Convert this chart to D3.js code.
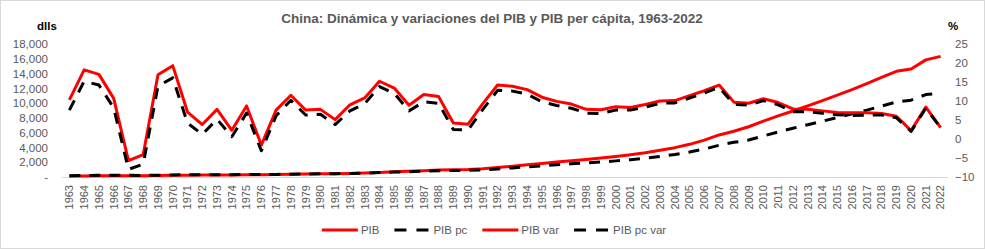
<!DOCTYPE html>
<html>
<head>
<meta charset="utf-8">
<script src="https://cdn.jsdelivr.net/npm/d3@7"></script>
<style>
  body { margin: 0; background: #fff; }
  svg { display: block; font-family: "Liberation Sans", Arial, sans-serif; }
</style>
</head>
<body>
<div id="chart"></div>
<script>
// años 1963-2022
const years = d3.range(1963, 2023).map(String);

// PIB (miles de millones de dólares constantes)
const pib = [120, 142, 166, 184, 173, 166, 194, 232, 248, 258,
  278, 284, 309, 304, 327, 365, 393, 424, 446, 486,
  538, 620, 703, 766, 855, 951, 991, 1029, 1125, 1285,
  1464, 1654, 1836, 2017, 2203, 2375, 2558, 2775, 3006, 3279,
  3607, 3971, 4423, 4985, 5693, 6200, 6800, 7556, 8281, 8935,
  9632, 10345, 11069, 11833, 12649, 13497, 14307, 14622, 15850, 16325];

// PIB per cápita (dólares)
const pibPc = [175, 202, 231, 249, 229, 214, 244, 283, 295, 298,
  314, 315, 336, 326, 346, 381, 404, 430, 446, 479,
  523, 595, 666, 714, 784, 858, 880, 901, 971, 1095,
  1233, 1379, 1514, 1647, 1780, 1901, 2028, 2182, 2348, 2545,
  2784, 3048, 3377, 3785, 4300, 4691, 5000, 5550, 6100, 6600,
  7080, 7560, 8050, 8550, 9050, 9600, 10150, 10400, 11150, 11350];

// variación PIB (%)
const pibVar = [10.3, 18.2, 17.0, 10.7, -5.7, -4.1, 16.9, 19.3, 7.1, 3.8,
  7.8, 2.3, 8.7, -1.6, 7.6, 11.5, 7.6, 7.8, 5.1, 9.0,
  10.8, 15.2, 13.4, 8.9, 11.7, 11.2, 4.2, 3.9, 9.3, 14.2,
  13.9, 13.0, 11.0, 9.9, 9.2, 7.8, 7.7, 8.5, 8.3, 9.1,
  10.0, 10.1, 11.4, 12.7, 14.2, 9.7, 9.4, 10.6, 9.6, 7.9,
  7.8, 7.4, 7.0, 6.9, 6.9, 6.7, 6.0, 2.2, 8.4, 3.0];

// variación PIB per cápita (%)
const pibPcVar = [7.6, 15.2, 14.2, 8.2, -8.0, -6.6, 13.9, 16.1, 4.2, 1.2,
  5.2, 0.6, 6.8, -3.1, 6.1, 10.2, 6.3, 6.5, 3.8, 7.4,
  9.3, 13.8, 12.0, 7.4, 9.8, 9.4, 2.5, 2.4, 7.8, 12.8,
  12.6, 11.8, 9.8, 8.8, 8.1, 6.8, 6.7, 7.6, 7.6, 8.4,
  9.4, 9.5, 10.8, 12.1, 13.6, 9.1, 8.9, 10.1, 9.0, 7.2,
  7.2, 6.8, 6.4, 6.2, 6.3, 6.3, 5.6, 2.0, 8.1, 3.0];

const leftTicks = d3.range(0, 18001, 2000);
const rightTicks = d3.range(-10, 26, 5);

const width = 985, height = 249;
const gray = "#595959";

const svg = d3.select("#chart").append("svg")
  .attr("width", width)
  .attr("height", height);

svg.append("rect")
  .attr("x", 0.5).attr("y", 0.5)
  .attr("width", width - 1).attr("height", height - 1)
  .attr("fill", "#fff").attr("stroke", "#d9d9d9");

const x = d3.scaleBand().domain(years).range([62, 948]);
const yL = d3.scaleLinear().domain([0, 18000]).range([177, 44]);
const yR = d3.scaleLinear().domain([-10, 25]).range([177, 44]);
const cx = d => x(d) + x.bandwidth() / 2;

// titulo
svg.append("text")
  .attr("x", 492).attr("y", 23)
  .attr("text-anchor", "middle")
  .attr("font-size", "13.5px").attr("font-weight", "bold")
  .attr("fill", gray)
  .text("China: Dinámica y variaciones del PIB y PIB per cápita, 1963-2022");

svg.append("text")
  .attr("x", 37).attr("y", 30)
  .attr("font-size", "11.5px").attr("font-weight", "bold")
  .attr("fill", "#000").text("dlls");

svg.append("text")
  .attr("x", 948).attr("y", 30)
  .attr("font-size", "11.5px").attr("font-weight", "bold")
  .attr("fill", "#000").text("%");

// ejes
const fmtL = d => d === 0 ? "-" : d3.format(",")(d);
const axL = svg.append("g")
  .attr("transform", "translate(62,0)")
  .call(d3.axisLeft(yL).tickValues(leftTicks).tickFormat(fmtL).tickSize(0).tickPadding(14));
const axR = svg.append("g")
  .attr("transform", "translate(948,0)")
  .call(d3.axisRight(yR).tickValues(rightTicks).tickSize(0).tickPadding(7));
[axL, axR].forEach(g => {
  g.select(".domain").remove();
  g.selectAll("text").attr("font-size", "11.5px").attr("fill", gray)
    .attr("font-family", "Liberation Sans, Arial, sans-serif");
});

const axX = svg.append("g")
  .attr("transform", "translate(0,177)")
  .call(d3.axisBottom(x).tickSize(0));
axX.select(".domain").attr("stroke", "#d9d9d9").attr("d", "M62,0.5H948");
axX.selectAll("text")
  .attr("font-size", "11px").attr("fill", gray)
  .attr("font-family", "Liberation Sans, Arial, sans-serif")
  .attr("text-anchor", "end")
  .attr("transform", "translate(0,8) rotate(-90)")
  .attr("x", 0).attr("y", 0).attr("dy", "0.35em");

// series
const series = [
  { name: "PIB", values: pib, y: yL, color: "#ff0000", dash: null },
  { name: "PIB pc", values: pibPc, y: yL, color: "#000", dash: "11,9" },
  { name: "PIB var", values: pibVar, y: yR, color: "#ff0000", dash: null },
  { name: "PIB pc var", values: pibPcVar, y: yR, color: "#000", dash: "11,9" }
];

series.forEach(s => {
  const line = d3.line()
    .x((d, i) => cx(years[i]))
    .y(d => s.y(d));
  svg.append("path")
    .datum(s.values)
    .attr("d", line)
    .attr("fill", "none")
    .attr("stroke", s.color)
    .attr("stroke-width", 3)
    .attr("stroke-linejoin", "round")
    .attr("stroke-dasharray", s.dash);
});

// leyenda
const leg = svg.append("g");
let lx = 0;
series.forEach(s => {
  const g = leg.append("g").attr("transform", `translate(${lx},0)`);
  g.append("line")
    .attr("x1", 0).attr("x2", 36).attr("y1", 0).attr("y2", 0)
    .attr("stroke", s.color).attr("stroke-width", 3)
    .attr("stroke-dasharray", s.dash ? "12,10" : null);
  const t = g.append("text")
    .attr("x", 39).attr("dy", "0.35em")
    .attr("font-size", "11.5px").attr("fill", gray)
    .text(s.name);
  lx += 39 + t.node().getComputedTextLength() + 15;
});
const legW = lx - 15;
leg.attr("transform", `translate(${(494 - legW / 2).toFixed(1)},230)`);
</script>
</body>
</html>
